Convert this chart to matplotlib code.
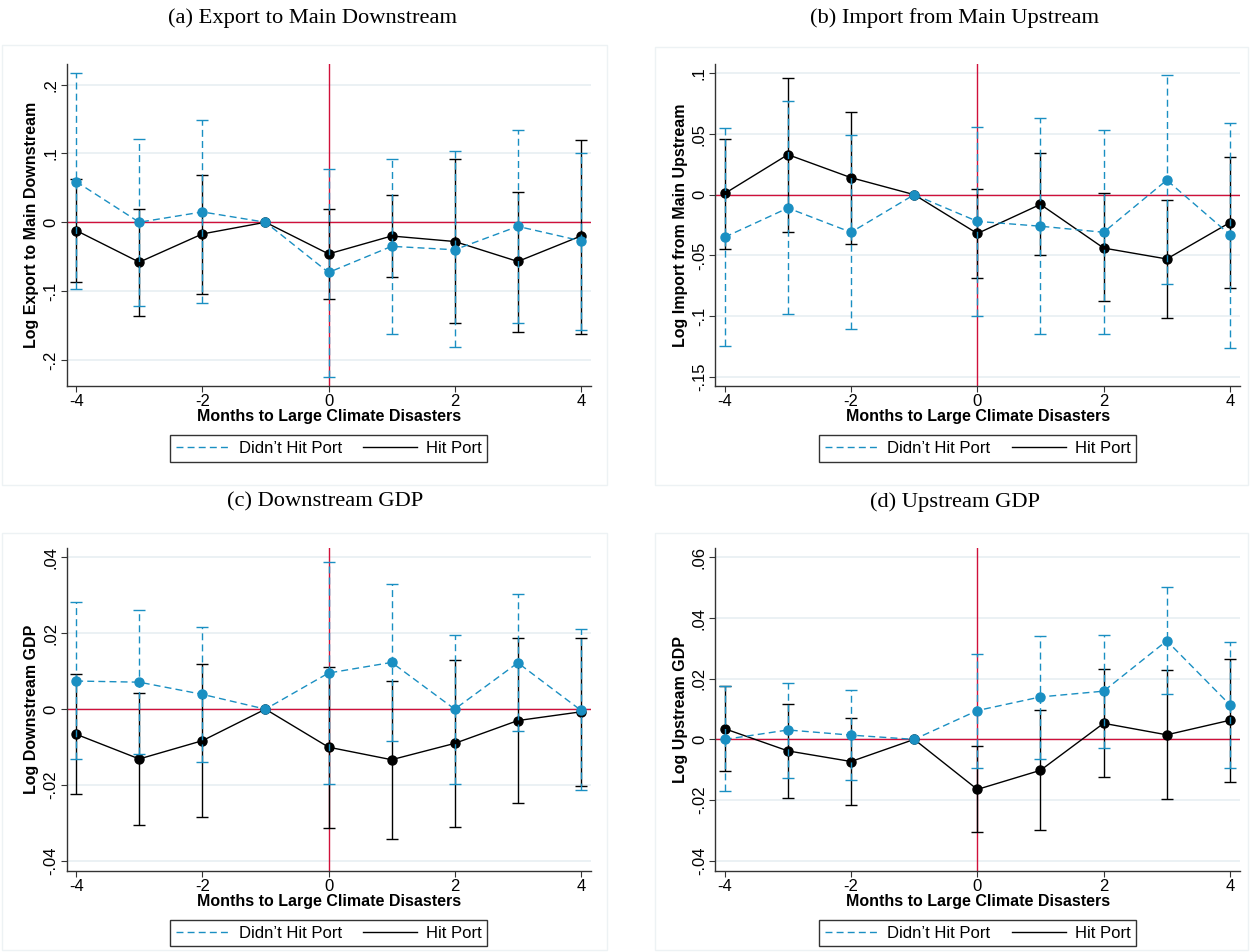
import matplotlib

matplotlib.use("Agg")
import matplotlib.pyplot as plt
import numpy as np
from matplotlib.lines import Line2D
from matplotlib.patches import Rectangle

plt.rcParams["font.family"] = ["Liberation Sans", "DejaVu Sans"]

MONTHS = [-4, -3, -2, -1, 0, 1, 2, 3, 4]

# (a) export to main downstream
a_miss = [0.059, 0.000, 0.015, 0.0, -0.073, -0.035, -0.040, -0.006, -0.027]
a_miss_lo = [-0.097, -0.121, -0.118, np.nan, -0.225, -0.163, -0.182, -0.146, -0.156]
a_miss_hi = [0.217, 0.121, 0.149, np.nan, 0.078, 0.092, 0.103, 0.134, 0.101]
a_hit = [-0.012, -0.058, -0.017, 0.0, -0.046, -0.020, -0.028, -0.057, -0.020]
a_hit_lo = [-0.087, -0.136, -0.104, np.nan, -0.111, -0.080, -0.147, -0.159, -0.162]
a_hit_hi = [0.063, 0.019, 0.069, np.nan, 0.019, 0.039, 0.092, 0.044, 0.120]

# (b) import from main upstream
b_miss = [-0.035, -0.011, -0.031, 0.0, -0.022, -0.026, -0.031, 0.012, -0.033]
b_miss_lo = [-0.125, -0.098, -0.111, np.nan, -0.100, -0.115, -0.115, -0.074, -0.126]
b_miss_hi = [0.055, 0.077, 0.049, np.nan, 0.056, 0.063, 0.053, 0.099, 0.059]
b_hit = [0.001, 0.033, 0.014, 0.0, -0.032, -0.008, -0.044, -0.053, -0.023]
b_hit_lo = [-0.045, -0.031, -0.041, np.nan, -0.069, -0.050, -0.088, -0.102, -0.077]
b_hit_hi = [0.046, 0.096, 0.068, np.nan, 0.005, 0.034, 0.001, -0.004, 0.031]

# (c) downstream GDP
c_miss = [0.0074, 0.0071, 0.0039, 0.0, 0.0095, 0.0123, 0.0, 0.0122, -0.0003]
c_miss_lo = [-0.0132, -0.0118, -0.0138, np.nan, -0.0197, -0.0084, -0.0197, -0.0058, -0.0212]
c_miss_hi = [0.0281, 0.0261, 0.0217, np.nan, 0.0387, 0.0330, 0.0196, 0.0303, 0.0210]
c_hit = [-0.0066, -0.0131, -0.0083, 0.0, -0.0100, -0.0133, -0.0090, -0.0030, -0.0007]
c_hit_lo = [-0.0223, -0.0304, -0.0285, np.nan, -0.0312, -0.0342, -0.0310, -0.0248, -0.0202]
c_hit_hi = [0.0092, 0.0042, 0.0118, np.nan, 0.0111, 0.0075, 0.0129, 0.0188, 0.0186]

# (d) upstream GDP
d_miss = [0.0, 0.0031, 0.0014, 0.0, 0.0095, 0.0140, 0.0159, 0.0325, 0.0114]
d_miss_lo = [-0.0170, -0.0126, -0.0134, np.nan, -0.0093, -0.0064, -0.0027, 0.0151, -0.0093]
d_miss_hi = [0.0176, 0.0187, 0.0162, np.nan, 0.0281, 0.0340, 0.0345, 0.0502, 0.0322]
d_hit = [0.0035, -0.0038, -0.0073, 0.0, -0.0165, -0.0102, 0.0053, 0.0015, 0.0063]
d_hit_lo = [-0.0103, -0.0193, -0.0218, np.nan, -0.0305, -0.0300, -0.0124, -0.0196, -0.0139]
d_hit_hi = [0.0177, 0.0118, 0.0071, np.nan, -0.0023, 0.0096, 0.0231, 0.0230, 0.0265]

BLUE = "#1a8fc2"
RED = "#d0103a"
GRID = "#e8eff2"
W, H = 1250, 952


def px_box(x0, y0, x1, y1):
    return [x0 / W, 1 - y1 / H, (x1 - x0) / W, (y1 - y0) / H]


def draw_series(ax, y, lo, hi, color, ls, z):
    x = np.array(MONTHS, dtype=float)
    y = np.array(y)
    lo, hi = np.array(lo), np.array(hi)
    ok = ~np.isnan(lo)
    eb = ax.errorbar(x[ok], y[ok], yerr=[y[ok] - lo[ok], hi[ok] - y[ok]], fmt="none",
                     ecolor=color, elinewidth=1.0, capsize=4, capthick=1.0, zorder=z)
    eb[2][0].set_linestyle(ls)
    ax.plot(x, y, color=color, lw=1.0, ls=ls, marker="o", ms=6.5,
            mec=color, mfc=color, zorder=z + 0.5)


fig = plt.figure(figsize=(W / 100, H / 100), dpi=100)

# faint graph-region frames
for (x0, y0, x1, y1) in [(2, 45, 607, 485), (655, 47, 1248, 485),
                         (2, 533, 607, 950), (655, 533, 1248, 950)]:
    fig.patches.append(Rectangle((x0 / W, 1 - y1 / H), (x1 - x0) / W, (y1 - y0) / H,
                                 transform=fig.transFigure, fill=False,
                                 ec="#edf2f4", lw=1.0))

panels = [
    ("(a) Export to Main Downstream", (313, 18), px_box(66.7, 64, 591, 386),
     "Log Export to Main Downstream", (-0.238, 0.230),
     [-0.2, -0.1, 0, 0.1, 0.2], ["-.2", "-.1", "0", ".1", ".2"],
     a_miss, a_miss_lo, a_miss_hi, a_hit, a_hit_lo, a_hit_hi),
    ("(b) Import from Main Upstream", (955, 18), px_box(715.3, 64, 1240, 386),
     "Log Import from Main Upstream", (-0.1577, 0.1077),
     [-0.15, -0.1, -0.05, 0, 0.05, 0.1], ["-.15", "-.1", "-.05", "0", ".05", ".1"],
     b_miss, b_miss_lo, b_miss_hi, b_hit, b_hit_lo, b_hit_hi),
    ("(c) Downstream GDP", (325, 502), px_box(66.7, 548, 591, 870.7),
     "Log Downstream GDP", (-0.0425, 0.0424),
     [-0.04, -0.02, 0, 0.02, 0.04], ["-.04", "-.02", "0", ".02", ".04"],
     c_miss, c_miss_lo, c_miss_hi, c_hit, c_hit_lo, c_hit_hi),
    ("(d) Upstream GDP", (955, 502), px_box(715.3, 548, 1240, 870.7),
     "Log Upstream GDP", (-0.0433, 0.0631),
     [-0.04, -0.02, 0, 0.02, 0.04, 0.06], ["-.04", "-.02", "0", ".02", ".04", ".06"],
     d_miss, d_miss_lo, d_miss_hi, d_hit, d_hit_lo, d_hit_hi),
]

for (title, tpos, box, ylab, ylim, yt, ytl,
     miss, miss_lo, miss_hi, hit, hit_lo, hit_hi) in panels:
    fig.text(tpos[0] / W, 1 - tpos[1] / H, title, ha="center", va="center",
             family=["Liberation Serif", "DejaVu Serif"], fontsize=16.2)
    ax = fig.add_axes(box)
    ax.set_xlim(-4.15, 4.16)
    ax.set_ylim(*ylim)
    ax.set_yticks(yt)
    ax.set_yticklabels(ytl, rotation=90, va="center")
    ax.set_xticks([-4, -2, 0, 2, 4])
    ax.set_xticklabels(["-4", "-2", "0", "2", "4"])
    ax.tick_params(labelsize=12, length=4, width=0.8, color="#333333", pad=2)
    for t in yt:
        ax.axhline(t, color=GRID, lw=1.2, zorder=0)
    ax.axhline(0, color=RED, lw=1.0, zorder=1)
    ax.axvline(0, color=RED, lw=1.0, zorder=1)
    draw_series(ax, hit, hit_lo, hit_hi, "black", "-", 2)
    draw_series(ax, miss, miss_lo, miss_hi, BLUE, (0, (5, 3)), 3)
    for s in ["top", "right"]:
        ax.spines[s].set_visible(False)
    for s in ["left", "bottom"]:
        ax.spines[s].set_color("#333333")
        ax.spines[s].set_linewidth(1.0)
    ax.set_xlabel("Months to Large Climate Disasters", fontsize=11.5, fontweight="bold")
    ax.xaxis.set_label_coords(0.5, -0.072)
    ax.xaxis.label.set_va("top")
    ax.set_ylabel(ylab, fontsize=11.5, fontweight="bold")
    ax.yaxis.set_label_coords(-0.052, 0.5)
    handles = [Line2D([], [], color=BLUE, lw=1.0, ls=(0, (5, 3))),
               Line2D([], [], color="black", lw=1.0)]
    leg = ax.legend(handles, ["Didn\u2019t Hit Port", "Hit Port"], ncol=2,
                    loc="upper center", bbox_to_anchor=(0.5, -0.152), fontsize=12,
                    frameon=True, fancybox=False, edgecolor="black",
                    handlelength=3.2, columnspacing=1.3, handletextpad=0.55,
                    borderpad=0.35, borderaxespad=0)
    leg.get_frame().set_linewidth(1.0)

fig.savefig("out.png", dpi=100)
